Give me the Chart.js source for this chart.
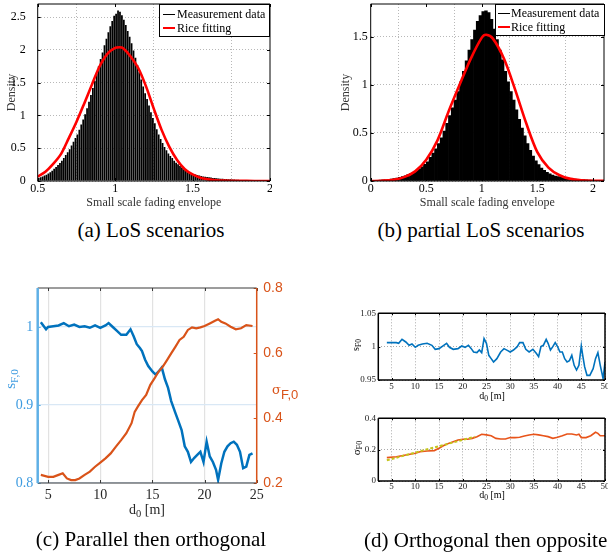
<!DOCTYPE html>
<html><head><meta charset="utf-8">
<script src="https://cdn.jsdelivr.net/npm/chart.js@4.4.1/dist/chart.umd.min.js"></script>
<style>
html,body{margin:0;padding:0;background:#fff}
body{width:608px;height:556px;position:relative;overflow:hidden;font-family:'Liberation Serif','Times New Roman',serif}
canvas{position:absolute}
.t{position:absolute;white-space:nowrap;line-height:1}
.lg{position:absolute;border:1px solid #000;background:#fff;box-sizing:border-box}
.ls{position:absolute;height:0}
.rot{position:absolute;white-space:nowrap;line-height:1;transform:translate(-50%,-50%) rotate(-90deg)}
.ctr{position:absolute;white-space:nowrap;line-height:1;transform:translate(-50%,-50%)}
sub{font-size:75%;vertical-align:-0.3em;line-height:0}
</style></head><body>
<canvas id="ca" width="272" height="215" style="left:0;top:0"></canvas>
<canvas id="cb" width="278" height="215" style="left:330px;top:0"></canvas>
<canvas id="cc" width="300" height="245" style="left:0;top:275px"></canvas>
<canvas id="cd1" width="268" height="105" style="left:340px;top:305px"></canvas>
<canvas id="cd2" width="268" height="100" style="left:340px;top:410px"></canvas>

<!-- legends -->
<div class="lg" style="left:159px;top:4px;width:111px;height:33px"></div>
<div class="ls" style="left:163px;top:14px;width:12px;border-top:1px solid #000"></div>
<div class="t" style="left:177px;top:8px;font-size:12px">Measurement data</div>
<div class="ls" style="left:163px;top:27px;width:12px;border-top:2.5px solid #ff0000"></div>
<div class="t" style="left:177px;top:22px;font-size:12px">Rice fitting</div>

<div class="lg" style="left:495px;top:4px;width:110px;height:32px"></div>
<div class="ls" style="left:498px;top:13px;width:12px;border-top:1px solid #000"></div>
<div class="t" style="left:511px;top:7px;font-size:12px">Measurement data</div>
<div class="ls" style="left:498px;top:26px;width:12px;border-top:2.5px solid #ff0000"></div>
<div class="t" style="left:511px;top:21px;font-size:12px">Rice fitting</div>

<!-- axis titles with subscripts -->
<div class="ctr" style="left:147px;top:510px;font-size:14px;color:#262626">d<sub>0</sub> [m]</div>
<div class="rot" style="left:10px;top:379px;font-size:15px;color:#3d9be0">s<sub>F,0</sub></div>
<div class="t" style="left:272px;top:381px;color:#D95319"><span style="font-size:13px;font-family:'DejaVu Serif',serif">σ</span><span style="font-family:'Liberation Sans',sans-serif;font-size:13px;position:relative;top:5px">F,0</span></div>
<div class="ctr" style="left:492px;top:396px;font-size:10px">d<sub>0</sub> [m]</div>
<div class="ctr" style="left:492px;top:495px;font-size:10px">d<sub>0</sub> [m]</div>
<div class="rot" style="left:356px;top:345px;font-size:10px">s<sub>F0</sub></div>
<div class="rot" style="left:356px;top:448px;font-size:11px">σ<sub>F0</sub></div>

<!-- captions -->
<div class="ctr" style="left:151px;top:230px;font-size:21px">(a) LoS scenarios</div>
<div class="ctr" style="left:481px;top:230px;font-size:21px">(b) partial LoS scenarios</div>
<div class="ctr" style="left:151px;top:539px;font-size:21px">(c) Parallel then orthogonal</div>
<div class="t" style="left:364px;top:530px;font-size:21px">(d) Orthogonal then opposite</div>

<script>
// ---------- DATA ----------
// (a) LoS histogram: bins of width 0.0125 starting at 0.5
const histA_start = 0.5;
const histA_width = 0.0125;
const histA_density = [
 0.045,0.058,0.07,0.083, 0.097,0.115,0.135,0.158, 0.185,0.215,0.245,0.275, 0.31,0.35,0.395,0.44,
 0.485,0.54,0.6,0.655, 0.71,0.78,0.86,0.94, 1.02,1.11,1.21,1.31, 1.42,1.53,1.64,1.75,
 1.86,1.96,2.07,2.17, 2.27,2.36,2.44,2.52, 2.55,2.6,2.58,2.53, 2.46,2.38,2.29,2.2,
 2.1,1.99,1.88,1.77, 1.66,1.55,1.44,1.34, 1.25,1.15,1.05,0.96, 0.88,0.79,0.71,0.64,
 0.58,0.52,0.47,0.42, 0.38,0.35,0.31,0.28, 0.255,0.23,0.205,0.18, 0.165,0.15,0.135,0.12,
 0.108,0.1,0.09,0.082, 0.076,0.07,0.064,0.06, 0.056,0.052,0.047,0.044, 0.041,0.038,0.036,0.033,
 0.032,0.03,0.028,0.026, 0.024,0.022,0.02,0.018, 0.017,0.016,0.014,0.013, 0.012,0.011,0.01,0.009,
 0.008,0.007,0.006,0.006, 0.005,0.004,0.004,0.003
];
const riceA_x = [0.5,0.55,0.6,0.65,0.7,0.75,0.8,0.85,0.9,0.95,1.0,1.03,1.05,1.1,1.15,1.2,1.25,1.3,1.35,1.4,1.45,1.5,1.55,1.6,1.65,1.7,1.8,1.9,2.0];
const riceA_y = [0.066,0.14,0.26,0.41,0.65,0.9,1.18,1.47,1.75,1.94,2.03,2.04,2.03,1.9,1.72,1.44,1.1,0.78,0.52,0.32,0.18,0.1,0.05,0.025,0.012,0.006,0.002,0.001,0];
const aXTicks = [0.5, 1, 1.5, 2];
const aYTicks = [0, 0.5, 1, 1.5, 2, 2.5];

// (b) partial LoS histogram: bins of width 0.025 starting at 0
const histB_start = 0;
const histB_width = 0.025;
const histB_density = [
 0.005,0.006,0.008,0.009, 0.011,0.013,0.016,0.02, 0.025,0.031,0.038,0.046, 0.055,0.066,0.078,0.09,
 0.105,0.125,0.148,0.172, 0.2,0.245,0.29,0.335, 0.39,0.45,0.52,0.6, 0.68,0.76,0.84,0.93,
 1.03,1.14,1.25,1.36, 1.47,1.57,1.66,1.72, 1.76,1.77,1.75,1.68, 1.58,1.47,1.36,1.26,
 1.14,1.03,0.93,0.84, 0.74,0.64,0.55,0.47, 0.39,0.32,0.26,0.21, 0.17,0.135,0.11,0.09,
 0.075,0.062,0.052,0.045, 0.039,0.034,0.03,0.027, 0.024,0.021,0.018,0.016, 0.014,0.012,0.01,0.009,
 0.008,0.007,0.006,0.005
];
const riceB_x = [0,0.1,0.2,0.3,0.4,0.5,0.6,0.7,0.8,0.9,1.0,1.04,1.1,1.2,1.3,1.4,1.5,1.6,1.7,1.8,1.9,2.0,2.1];
const riceB_y = [0,0.003,0.012,0.04,0.1,0.22,0.42,0.72,1.0,1.27,1.49,1.52,1.48,1.27,0.95,0.6,0.3,0.14,0.06,0.022,0.008,0.003,0.001];
const bXTicks = [0, 0.5, 1, 1.5, 2];
const bYTicks = [0, 0.5, 1, 1.5];

// (c) Parallel then orthogonal
const cS_d = [4.3,4.8,5,5.5,6,6.5,7,7.5,8,8.5,9,9.5,10,10.5,10.8,11.2,11.6,12,12.5,12.9,13.2,13.5,13.8,14,14.3,14.6,15,15.3,15.6,15.9,16.2,16.5,16.8,17.2,17.5,17.8,18.1,18.4,18.7,19,19.3,19.6,19.9,20.2,20.5,20.8,21.1,21.3,21.6,21.9,22.2,22.5,22.8,23.1,23.4,23.7,24,24.3,24.6];
const cS = [1.006,0.997,1.0,1.001,1.002,1.005,1.001,1.003,1.0,1.001,0.999,1.002,0.999,1.002,1.005,1.0,0.995,0.99,0.99,0.997,0.988,0.978,0.973,0.969,0.958,0.95,0.943,0.939,0.943,0.948,0.933,0.922,0.905,0.89,0.879,0.868,0.847,0.84,0.827,0.832,0.836,0.84,0.827,0.853,0.834,0.827,0.817,0.804,0.825,0.84,0.847,0.851,0.853,0.849,0.84,0.819,0.821,0.836,0.838];
const cSig_d = [4.3,5,5.5,6,6.4,6.8,7.2,7.6,8,8.5,9,9.5,10,10.5,11,11.5,12,12.5,13,13.3,13.6,14,14.4,14.8,15.2,15.6,16,16.4,16.8,17.2,17.6,18,18.4,18.8,19.2,19.6,20,20.5,21,21.3,21.6,22,22.5,23,23.5,24,24.6];
const cSig = [0.225,0.219,0.219,0.225,0.23,0.214,0.209,0.209,0.214,0.225,0.235,0.25,0.263,0.276,0.291,0.312,0.332,0.353,0.384,0.419,0.435,0.455,0.471,0.502,0.522,0.543,0.558,0.578,0.599,0.619,0.64,0.65,0.671,0.679,0.676,0.679,0.683,0.691,0.699,0.704,0.696,0.691,0.681,0.673,0.676,0.686,0.683];
const cXTicks = [5, 10, 15, 20, 25];
const cYTicks = [0.8, 0.9, 1];
const cY2Ticks = [0.2, 0.4, 0.6, 0.8];

// (d) Orthogonal then opposite
const dS_d = [4,5,6,6.5,7.2,8,8.7,9.3,10,10.6,11.5,12.5,13.5,14.2,15,16,16.6,17.2,18,19,19.8,20.5,21.2,21.8,22.3,23,23.5,24,24.5,25,25.5,26,26.5,27.2,28,28.7,29.5,30,30.7,31.5,32,32.7,33.3,34,34.8,35.5,36,36.5,37,37.6,38,38.5,39,39.5,40,40.5,41,41.5,42,42.5,43,43.5,44,44.5,45,45.3,45.7,46.2,46.8,47.5,48,48.5,49,49.6,50];
const dS = [1.006,1.006,1.006,1.005,1.011,1.007,1.002,1.004,0.999,1.002,1.004,1.005,1.002,0.996,0.997,1.002,1.005,0.999,0.996,0.997,1.001,0.999,1.002,0.997,0.992,0.991,0.995,0.991,1.012,1.005,0.987,0.982,0.977,0.982,0.992,0.997,0.994,0.992,0.995,1.0,1.006,1.006,0.996,0.992,0.996,0.99,0.985,1.0,1.002,1.011,1.005,0.995,1.0,1.006,1.0,0.992,0.992,0.982,0.977,0.979,0.987,0.972,0.965,0.972,1.001,0.987,0.97,0.957,0.957,0.967,0.982,0.991,0.972,0.952,0.977];
const dSig_d = [4,6,8,10,11,12.5,14,15,16,17,18,19,20,21,22,23,24,25,26,27,28,29,30,31,32,33,34,35,36,37,38,39,40,41,42,43,44,44.5,45,46,47,48,48.5,49,50];
const dSig = [0.149,0.155,0.166,0.177,0.187,0.191,0.194,0.209,0.226,0.24,0.251,0.262,0.266,0.266,0.272,0.283,0.298,0.294,0.289,0.272,0.268,0.268,0.277,0.277,0.279,0.287,0.294,0.298,0.294,0.289,0.283,0.272,0.279,0.289,0.3,0.3,0.294,0.298,0.277,0.277,0.289,0.311,0.304,0.289,0.289];
const dFit_d = [4,8,12,16,20,22.5];
const dFit = [0.132,0.165,0.198,0.23,0.262,0.282];
const dXTicks = [5, 10, 15, 20, 25, 30, 35, 40, 45, 50];
const dTopYTicks = [0.95, 1, 1.05];
const dBotYTicks = [0, 0.2, 0.4];

// ---------- HELPERS ----------
const SERIF = "'Liberation Serif','Times New Roman',serif";
const SANS = "'Liberation Sans',Arial,sans-serif";
const pts = (xs, ys) => xs.map((x, i) => ({x, y: ys[i]}));
const bins = (start, w, vals) => vals.map((v, i) => ({x: start + w * (i + 0.5), y: v}));
const useTicks = arr => s => { s.ticks = arr.map(v => ({value: v})); };
const fixW = w => s => { s.width = w; s.paddingTop = 0; s.paddingBottom = 0; };
const fixH = h => s => { s.height = h; s.paddingLeft = 0; s.paddingRight = 0; };
const fmt = v => String(+(+v).toFixed(2));

const framePlugin = {
  id: 'frame',
  afterDatasetsDraw(chart, args, o) {
    const {ctx, chartArea: a} = chart;
    const line = (x1, y1, x2, y2, c, w) => { ctx.strokeStyle = c; ctx.lineWidth = w; ctx.beginPath(); ctx.moveTo(x1, y1); ctx.lineTo(x2, y2); ctx.stroke(); };
    ctx.save();
    const L = o.tickLen, tw = o.tickWidth || 1, s = o.sides;
    const xs = chart.scales.x;
    xs.ticks.forEach(t => { const px = Math.round(xs.getPixelForValue(t.value)) + 0.5;
      line(px, a.bottom, px, a.bottom - L, s.bottom, tw); line(px, a.top, px, a.top + L, s.top, tw); });
    const ys = chart.scales.y;
    ys.ticks.forEach(t => { const py = Math.round(ys.getPixelForValue(t.value)) + 0.5;
      line(a.left, py, a.left + L, py, s.left, tw); if (!chart.scales.y2) line(a.right, py, a.right - L, py, s.right, tw); });
    if (chart.scales.y2) chart.scales.y2.ticks.forEach(t => { const py = Math.round(chart.scales.y2.getPixelForValue(t.value)) + 0.5;
      line(a.right, py, a.right - L, py, s.right, tw); });
    const w = o.widths;
    line(a.left, a.top, a.right, a.top, s.top, w.top);
    line(a.left, a.bottom, a.right, a.bottom, s.bottom, w.bottom);
    line(a.left, a.top, a.left, a.bottom, s.left, w.left);
    line(a.right, a.top, a.right, a.bottom, s.right, w.right);
    ctx.restore();
  }
};
const blackFrame = (wd, len) => ({tickLen: len, tickWidth: 1, sides: {top:'#000', bottom:'#000', left:'#000', right:'#000'}, widths: {top:wd, bottom:wd, left:wd, right:wd}});
const base = pad => ({responsive:false, animation:false, events:[], layout:{padding:pad}, plugins:{legend:{display:false}, tooltip:{enabled:false}}});

// ---------- (a), (b) ----------
function histChart(id, cfg) {
  const o = base(cfg.pad);
  o.plugins.frame = blackFrame(1, 3);
  o.scales = {
    x: {type:'linear', min:cfg.xmin, max:cfg.xmax, offset:false, afterBuildTicks: useTicks(cfg.xt), afterFit: fixH(34),
        ticks:{autoSkip:false, maxRotation:0, padding:1, color:'#000', font:{family:SERIF, size:12}, callback: fmt},
        grid:{color:'#b8b8b8', lineWidth:1, drawTicks:false}, border:{display:false, dash:[1,2]},
        title:{display:true, text:'Small scale fading envelope', color:'#333', font:{family:SERIF, size:12}, padding:{top:0, bottom:5}}},
    y: {type:'linear', min:0, max:cfg.ymax, afterBuildTicks: useTicks(cfg.yt), afterFit: fixW(cfg.yw),
        ticks:{autoSkip:false, padding:cfg.ypad, crossAlign:'near', color:'#000', font:{family:SERIF, size:12}, callback: fmt},
        grid:{color:'#b8b8b8', lineWidth:1, drawTicks:false}, border:{display:false, dash:[1,2]},
        title:{display:true, text:'Density', color:'#333', font:{family:SERIF, size:12}, padding:{top:cfg.ttl, bottom:0}}}
  };
  new Chart(document.getElementById(id), {
    type:'bar',
    data:{datasets:[
      {type:'line', label:'Rice fitting', data: pts(cfg.rx, cfg.ry), borderColor:'#ff0000', borderWidth:2.6, pointRadius:0, tension:0.3, order:0},
      {type:'bar', label:'Measurement data', data: bins(cfg.hs, cfg.hw, cfg.hv), backgroundColor:'#000', borderWidth:0, barPercentage:cfg.bp, categoryPercentage:1, order:1}
    ]},
    options:o, plugins:[framePlugin]
  });
}
histChart('ca', {pad:{left:0,right:2,top:4,bottom:0}, xmin:0.5, xmax:2, ymax:2.7, yw:37.7, ypad:12, ttl:4.8,
  xt:aXTicks, yt:aYTicks, rx:riceA_x, ry:riceA_y, hs:histA_start, hw:histA_width, hv:histA_density, bp:0.9});
histChart('cb', {pad:{left:0,right:4,top:4,bottom:0}, xmin:0, xmax:2.1, ymax:1.84, yw:40.7, ypad:3, ttl:8.8,
  xt:bXTicks, yt:bYTicks, rx:riceB_x, ry:riceB_y, hs:histB_start, hw:histB_width, hv:histB_density, bp:1.0});

// ---------- (c) ----------
(function(){
  const o = base({left:0, right:0, top:13, bottom:0});
  o.plugins.frame = {tickLen:3, tickWidth:1, sides:{top:'#3a3a3a', bottom:'#3a3a3a', left:'#5fb0e6', right:'#D95319'}, widths:{top:1, bottom:1, left:2.5, right:1.5}};
  o.scales = {
    x: {type:'linear', min:4, max:25, afterBuildTicks: useTicks(cXTicks), afterFit: fixH(37),
        ticks:{autoSkip:false, maxRotation:0, padding:3.6, color:'#262626', font:{family:SERIF, size:14}, callback: fmt},
        grid:{color:'#e2e2e2', lineWidth:1.2, drawTicks:false}, border:{display:false}},
    y: {type:'linear', position:'left', min:0.8, max:1.05, afterBuildTicks: useTicks(cYTicks), afterFit: fixW(37.7),
        ticks:{autoSkip:false, padding:4.4, color:'#3d9be0', font:{family:SERIF, size:14}, callback: fmt},
        grid:{color:'#d9e8f5', lineWidth:1.2, drawTicks:false}, border:{display:false}},
    y2: {type:'linear', position:'right', min:0.2, max:0.8, afterBuildTicks: useTicks(cY2Ticks), afterFit: fixW(43.3),
        ticks:{autoSkip:false, padding:6.6, color:'#D95319', font:{family:SANS, size:14}, callback: fmt},
        grid:{display:false, drawTicks:false}, border:{display:false}}
  };
  new Chart(document.getElementById('cc'), {
    type:'line',
    data:{datasets:[
      {label:'σF,0', data: pts(cSig_d, cSig), yAxisID:'y2', borderColor:'#D95319', borderWidth:2.2, pointRadius:0, order:0},
      {label:'sF,0', data: pts(cS_d, cS), yAxisID:'y', borderColor:'#0072BD', borderWidth:2.5, pointRadius:0, order:1}
    ]},
    options:o, plugins:[framePlugin]
  });
})();

// ---------- (d) ----------
function dChart(id, cfg) {
  const o = base({left:0, right:3, top:8.3, bottom:0});
  o.plugins.frame = blackFrame(1.5, 2);
  o.scales = {
    x: {type:'linear', min:2.2, max:50, afterBuildTicks: useTicks(dXTicks), afterFit: fixH(cfg.xh),
        ticks:{autoSkip:false, maxRotation:0, padding:cfg.xpad, color:'#222', font:{family:SERIF, size:9}, callback: fmt},
        grid:{color:'#aaaaaa', lineWidth:1, drawTicks:false}, border:{display:false, dash:[1,2]}},
    y: {type:'linear', min:cfg.ymin, max:cfg.ymax, afterBuildTicks: useTicks(cfg.yt), afterFit: fixW(38.3),
        ticks:{autoSkip:false, padding:2.3, color:'#222', font:{family:SERIF, size:9}, callback: fmt},
        grid:{color:'#aaaaaa', lineWidth:1, drawTicks:false}, border:{display:false, dash:[1,2]}}
  };
  new Chart(document.getElementById(id), {type:'line', data:{datasets:cfg.ds}, options:o, plugins:[framePlugin]});
}
dChart('cd1', {xh:30, xpad:1.6, ymin:0.95, ymax:1.05, yt:dTopYTicks,
  ds:[{label:'sF0', data: pts(dS_d, dS), borderColor:'#0072BD', borderWidth:1.6, pointRadius:0}]});
dChart('cd2', {xh:29, xpad:0.3, ymin:0, ymax:0.4, yt:dBotYTicks,
  ds:[{label:'fit', data: pts(dFit_d, dFit), borderColor:'#c4c41c', borderWidth:2, borderDash:[3,2], pointRadius:0, order:0},
      {label:'σF0', data: pts(dSig_d, dSig), borderColor:'#E8541A', borderWidth:1.6, pointRadius:0, order:1}]});
</script>
</body></html>
